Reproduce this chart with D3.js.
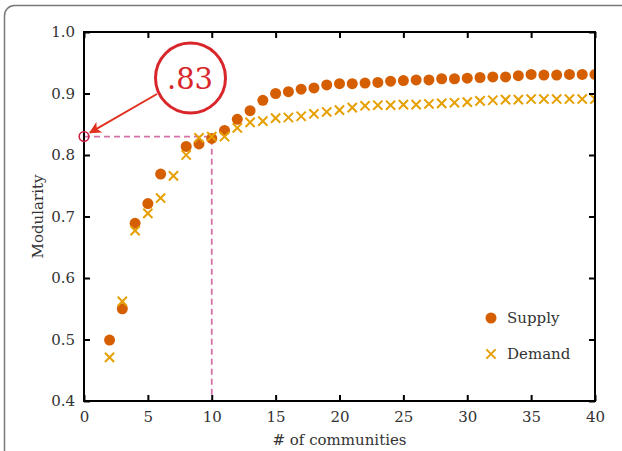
<!DOCTYPE html>
<html>
<head>
<meta charset="utf-8">
<script src="https://cdn.jsdelivr.net/npm/d3@7"></script>
<style>
  body { margin: 0; background: #fff; }
</style>
</head>
<body>
<svg id="chart" width="622" height="451"></svg>
<script>
"use strict";
// communities (x) for each series
var supplyK = [2,3,4,5,6,8,9,10,11,12,13,14,15,16,17,18,19,20,21,22,23,24,25,26,27,28,29,30,31,32,33,34,35,36,37,38,39,40];
var supplyQ = [0.499,0.550,0.689,0.721,0.769,0.814,0.818,0.827,0.840,0.858,0.872,0.889,0.900,0.903,0.907,0.909,0.914,0.916,0.916,0.917,0.918,0.920,0.921,0.922,0.922,0.924,0.924,0.925,0.926,0.927,0.927,0.929,0.931,0.930,0.930,0.931,0.931,0.931];
var demandK = [2,3,4,5,6,7,8,9,10,11,12,13,14,15,16,17,18,19,20,21,22,23,24,25,26,27,28,29,30,31,32,33,34,35,36,37,38,39,40];
var demandQ = [0.471,0.562,0.677,0.705,0.730,0.766,0.800,0.828,0.830,0.830,0.844,0.853,0.855,0.860,0.861,0.863,0.867,0.870,0.873,0.877,0.880,0.881,0.881,0.882,0.882,0.883,0.884,0.885,0.886,0.888,0.889,0.890,0.890,0.891,0.891,0.891,0.891,0.891,0.891];
var xTicks = [0,5,10,15,20,25,30,35,40];
var yTicks = [0.4,0.5,0.6,0.7,0.8,0.9,1.0];
var highlightK = 10, highlightQ = 0.83;

var supplyColor = "#d55e00", demandColor = "#e69f00";
var serif = "'DejaVu Serif', serif";

var svg = d3.select("#chart");
var pLeft = 84, pRight = 595, pTop = 32, pBottom = 401;

var x = d3.scaleLinear().domain([0,40]).range([pLeft,pRight]);
var y = d3.scaleLinear().domain([0.4,1.0]).range([pBottom,pTop]);

// outer rounded border (runs off the right and bottom)
svg.append("rect")
  .attr("x",4.5).attr("y",5.5).attr("width",640).attr("height",480)
  .attr("rx",10).attr("fill","none").attr("stroke","#777").attr("stroke-width",1.5);

svg.append("clipPath").attr("id","plotClip")
  .append("rect").attr("x",pLeft).attr("y",pTop).attr("width",pRight-pLeft).attr("height",pBottom-pTop);

// highlight guides
svg.append("path")
  .attr("d","M"+x(0)+","+y(highlightQ)+"H"+x(highlightK)+"V"+y(0.4))
  .attr("fill","none").attr("stroke","#d472a8").attr("stroke-width",1.8)
  .attr("stroke-dasharray","6,4");

var plot = svg.append("g").attr("clip-path","url(#plotClip)");

plot.selectAll("circle.supply")
  .data(supplyK.map(function(k,i){ return {k:k, q:supplyQ[i]}; }))
  .enter().append("circle").attr("class","supply")
  .attr("cx", function(d){ return x(d.k); })
  .attr("cy", function(d){ return y(d.q); })
  .attr("r",5.5).attr("fill",supplyColor);

var xs = 4.6;
plot.selectAll("path.demand")
  .data(demandK.map(function(k,i){ return {k:k, q:demandQ[i]}; }))
  .enter().append("path").attr("class","demand")
  .attr("d", function(d){
    var cx = x(d.k), cy = y(d.q);
    return "M"+(cx-xs)+","+(cy-xs)+"L"+(cx+xs)+","+(cy+xs)+"M"+(cx-xs)+","+(cy+xs)+"L"+(cx+xs)+","+(cy-xs);
  })
  .attr("stroke",demandColor).attr("stroke-width",2).attr("fill","none");

// axes with inward ticks on all sides
var tick = 6;
svg.append("g").attr("transform","translate(0,"+pBottom+")")
  .call(d3.axisBottom(x).tickValues(xTicks).tickSizeInner(-tick).tickSizeOuter(0).tickPadding(10))
  .call(styleAxis);
svg.append("g").attr("transform","translate(0,"+pTop+")")
  .call(d3.axisTop(x).tickValues(xTicks).tickSizeInner(-tick).tickSizeOuter(0).tickFormat(""))
  .call(styleAxis);
svg.append("g").attr("transform","translate("+pLeft+",0)")
  .call(d3.axisLeft(y).tickValues(yTicks).tickSizeInner(-tick).tickSizeOuter(0).tickPadding(9).tickFormat(d3.format(".1f")))
  .call(styleAxis);
svg.append("g").attr("transform","translate("+pRight+",0)")
  .call(d3.axisRight(y).tickValues(yTicks).tickSizeInner(-tick).tickSizeOuter(0).tickFormat(""))
  .call(styleAxis);

function styleAxis(g){
  g.attr("font-family",serif).attr("font-size",15);
  g.select(".domain").remove();
  g.selectAll(".tick line").attr("stroke","#000").attr("stroke-width",2);
  g.selectAll(".tick text").attr("fill","#333");
}

svg.append("rect")
  .attr("x",pLeft).attr("y",pTop).attr("width",pRight-pLeft).attr("height",pBottom-pTop)
  .attr("fill","none").attr("stroke","#000").attr("stroke-width",2);

function label(sel){
  return sel.attr("font-family",serif).attr("font-size",15).attr("fill","#333");
}

// axis titles
svg.append("text").attr("x",(pLeft+pRight)/2).attr("y",445)
  .attr("text-anchor","middle").call(label).text("# of communities");
svg.append("text").attr("transform","translate(43,"+((pTop+pBottom)/2)+") rotate(-90)")
  .attr("text-anchor","middle").call(label).text("Modularity");

// annotation
var ann = svg.append("g");
ann.append("circle").attr("cx",x(0)).attr("cy",y(highlightQ)).attr("r",4.8)
  .attr("fill","none").attr("stroke","#d01f45").attr("stroke-width",1.6);
svg.append("defs").append("marker").attr("id","arrowHead")
  .attr("viewBox","0 0 10 10").attr("refX",9).attr("refY",5)
  .attr("markerWidth",6).attr("markerHeight",6).attr("orient","auto")
  .append("path").attr("d","M0,0L10,5L0,10L2.5,5Z").attr("fill","#e0301e");
ann.append("line").attr("x1",157).attr("y1",94).attr("x2",x(0)+6).attr("y2",y(highlightQ)-4)
  .attr("stroke","#e0301e").attr("stroke-width",2).attr("marker-end","url(#arrowHead)");
ann.append("circle").attr("cx",190.5).attr("cy",78).attr("r",35)
  .attr("fill","#fff").attr("stroke","#d9262a").attr("stroke-width",3);
ann.append("text").attr("x",190).attr("y",89).attr("text-anchor","middle")
  .attr("font-family",serif).attr("font-size",29).attr("fill","#d9262a").text(".83");

// legend
var leg = svg.append("g");
leg.append("circle").attr("cx",491).attr("cy",318).attr("r",5.5).attr("fill",supplyColor);
leg.append("text").attr("x",507).attr("y",323).call(label).text("Supply");
leg.append("path")
  .attr("d","M"+(491-xs)+","+(354-xs)+"L"+(491+xs)+","+(354+xs)+"M"+(491-xs)+","+(354+xs)+"L"+(491+xs)+","+(354-xs))
  .attr("stroke",demandColor).attr("stroke-width",2);
leg.append("text").attr("x",507).attr("y",359).call(label).text("Demand");
</script>
</body>
</html>
